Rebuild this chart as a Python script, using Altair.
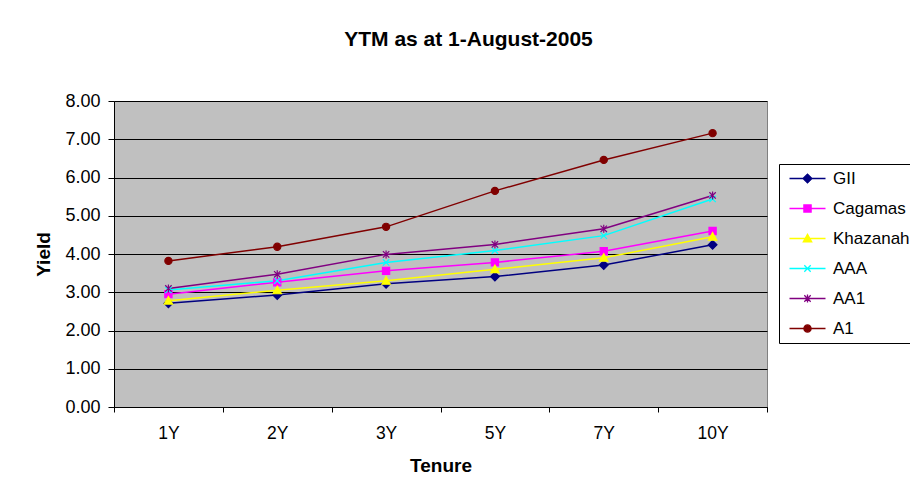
import altair as alt
import pandas as pd

tenures = ["1Y", "2Y", "3Y", "5Y", "7Y", "10Y"]
series = ["GII", "Cagamas", "Khazanah", "AAA", "AA1", "A1"]
gii = [2.71, 2.93, 3.22, 3.41, 3.71, 4.24]
cagamas = [2.95, 3.26, 3.56, 3.78, 4.07, 4.60]
khazanah = [2.78, 3.05, 3.30, 3.60, 3.90, 4.45]
aaa = [3.06, 3.30, 3.78, 4.09, 4.48, 5.44]
aa1 = [3.10, 3.47, 3.99, 4.25, 4.66, 5.53]
a1 = [3.82, 4.19, 4.71, 5.65, 6.46, 7.16]
colors = ["#000080", "#FF00FF", "#FFFF00", "#00FFFF", "#800080", "#800000"]

marker_paths = [
    "M-1.1,0L0,-1.1L1.1,0L0,1.1Z",
    "M-0.9,-0.9H0.9V0.9H-0.9Z",
    "M0,-1.05L1.05,0.85H-1.05Z",
    "M-0.8,-0.8L0.8,0.8M-0.8,0.8L0.8,-0.8",
    "M-0.8,-0.8L0.8,0.8M-0.8,0.8L0.8,-0.8M0,-1L0,1",
    "M0.9,0A0.9,0.9,0,1,1,-0.9,0A0.9,0.9,0,1,1,0.9,0Z",
]
legend_paths = ["M-4.5,0H4.5" + p for p in marker_paths]

rows = []
for name, vals in zip(series, [gii, cagamas, khazanah, aaa, aa1, a1]):
    for t, v in zip(tenures, vals):
        rows.append({"series": name, "tenure": t, "yield": v})
df = pd.DataFrame(rows)

FONT = "Liberation Sans"

x = alt.X(
    "tenure:N",
    sort=tenures,
    scale=alt.Scale(type="band", paddingInner=0, paddingOuter=0),
    axis=alt.Axis(
        title="Tenure", labelAngle=0, tickBand="extent", grid=False,
        tickSize=5, labelPadding=12, titlePadding=15, labelFontSize=17.5,
    ),
)
y = alt.Y(
    "yield:Q",
    scale=alt.Scale(domain=[0, 8], nice=False, zero=True),
    axis=alt.Axis(
        title="Yield", values=list(range(9)), format=".2f", grid=True,
        tickSize=6, labelPadding=8, titlePadding=11, labelFontSize=18,
    ),
)

color_scale = alt.Scale(domain=series, range=colors)

lines = alt.Chart(df).mark_line(strokeWidth=1.5).encode(
    x=x, y=y,
    color=alt.Color("series:N", scale=color_scale, legend=None),
    detail="series:N",
)

points = alt.Chart(df).mark_point(filled=True, size=64, strokeWidth=1.2, opacity=1).encode(
    x=x, y=y,
    color=alt.Color("series:N", scale=color_scale, legend=None),
    stroke=alt.Stroke("series:N", scale=color_scale, legend=None),
    shape=alt.Shape("series:N", scale=alt.Scale(domain=series, range=marker_paths), legend=None),
)

leg = alt.Legend(
    title=None, orient="none", legendX=665, legendY=63,
    strokeColor="black", fillColor="white", padding=6,
    labelFont=FONT, labelFontSize=17, labelColor="black",
    symbolSize=64, symbolOffset=14, labelOffset=17, rowPadding=12,
    symbolStrokeWidth=1.3, labelLimit=200,
)

legend_layer = alt.Chart(df).transform_filter("false").mark_point(
    filled=True, size=64, strokeWidth=1.3, opacity=1
).encode(
    x=x, y=y,
    color=alt.Color("series:N", scale=color_scale, legend=leg),
    stroke=alt.Stroke("series:N", scale=color_scale, legend=leg),
    shape=alt.Shape("series:N", scale=alt.Scale(domain=series, range=legend_paths), legend=leg),
)

chart = alt.layer(lines, points, legend_layer).resolve_scale(
    color="independent", stroke="independent", shape="independent"
).properties(
    width=653,
    height=306,
    padding={"left": 106, "top": 93, "right": 143, "bottom": 87},
    autosize=alt.AutoSizeParams(type="none"),
    background="white",
    title=alt.TitleParams(
        "YTM as at 1-August-2005", font=FONT, fontSize=21, fontWeight="bold",
        color="black", anchor="middle", offset=42, dx=28,
    ),
).configure_view(
    fill="#C0C0C0", stroke="#808080", strokeWidth=1,
).configure_axis(
    labelFont=FONT, labelColor="black",
    titleFont=FONT, titleFontSize=19, titleFontWeight="bold", titleColor="black",
    domainColor="black", domainWidth=1, tickColor="black", tickWidth=1,
    gridColor="black", gridOpacity=1, gridWidth=1,
)

chart.save("out.html", embed_options={"renderer": "svg", "actions": False})
